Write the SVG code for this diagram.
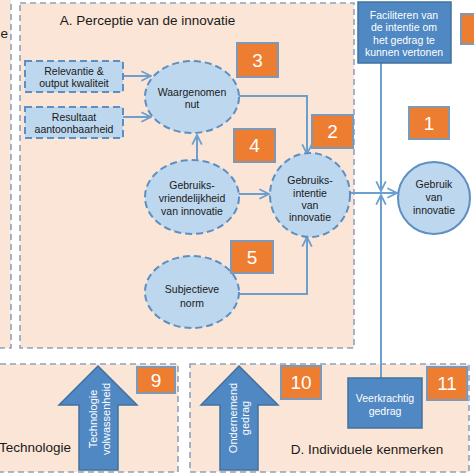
<svg xmlns="http://www.w3.org/2000/svg" width="474" height="474" viewBox="0 0 474 474">
<defs>
<style>
.panel{fill:#fbe5d6;stroke:#8ea3bd;stroke-width:1.6;stroke-dasharray:6,4}
.dnode{fill:#bdd7ee;stroke:#5e8fc2;stroke-width:2;stroke-dasharray:7,4}
.snode{fill:#bdd7ee;stroke:#5e8fc2;stroke-width:2}
.dark{fill:#4f88c2;stroke:#41719c;stroke-width:1.5}
.num{fill:#ed7d31;stroke:#7f98b5;stroke-width:2}
.numt{font-family:"Liberation Sans",Arial,sans-serif;font-size:19px;fill:#ffffff;text-anchor:middle}
.t{font-family:"Liberation Sans",Arial,sans-serif;font-size:10.5px;fill:#1a1a1a;text-anchor:middle}
.tw{font-family:"Liberation Sans",Arial,sans-serif;font-size:10.5px;fill:#ffffff;text-anchor:middle}
.title{font-family:"Liberation Sans",Arial,sans-serif;font-size:13.5px;fill:#1a1a1a}
.conn{fill:none;stroke:#6a9fd0;stroke-width:2}
</style>
<marker id="ah" viewBox="0 0 10 10" refX="9" refY="5" markerWidth="6" markerHeight="6" orient="auto" markerUnits="strokeWidth">
<path d="M1,1 L9,5 L1,9" fill="none" stroke="#6a9fd0" stroke-width="1.5"/>
</marker>
</defs>
<rect width="474" height="474" fill="#ffffff"/>

<g id="panel-left">
<rect class="panel" x="-10" y="-5" width="21" height="353"/>
<text class="title" x="8" y="38" text-anchor="end">e</text>
</g>
<g id="panel-A">
<rect class="panel" x="20" y="3" width="334" height="345"/>
<text class="title" x="147.5" y="25" text-anchor="middle">A. Perceptie van de innovatie</text>
</g>
<g id="panel-C">
<rect class="panel" x="-10" y="364" width="188" height="108"/>
<text class="title" x="-1" y="452">Technologie</text>
</g>
<g id="panel-D">
<rect class="panel" x="190" y="364" width="279" height="108"/>
<text class="title" x="367" y="454" text-anchor="middle">D. Individuele kenmerken</text>
</g>

<g id="connectors">
<line class="conn" x1="123" y1="76" x2="151" y2="76" marker-end="url(#ah)"/>
<line class="conn" x1="123" y1="117" x2="151" y2="117" marker-end="url(#ah)"/>
<line class="conn" x1="197" y1="160" x2="197" y2="135" marker-end="url(#ah)"/>
<polyline class="conn" points="239,96 307,96 307,154" marker-end="url(#ah)"/>
<line class="conn" x1="238" y1="194" x2="269" y2="194" marker-end="url(#ah)"/>
<polyline class="conn" points="238,294 307,294 307,237" marker-end="url(#ah)"/>
<line class="conn" x1="350" y1="193" x2="397" y2="193" marker-end="url(#ah)"/>
<line class="conn" x1="381" y1="63" x2="381" y2="191" marker-end="url(#ah)"/>
<line class="conn" x1="381" y1="378" x2="381" y2="195" marker-end="url(#ah)"/>
</g>

<g id="relevantie">
<rect class="dnode" x="25" y="61" width="98" height="31"/>
<text class="t" x="74" y="75">Relevantie &amp;</text>
<text class="t" x="74" y="87">output kwaliteit</text>
</g>
<g id="resultaat">
<rect class="dnode" x="25" y="107" width="98" height="31"/>
<text class="t" x="74" y="121">Resultaat</text>
<text class="t" x="74" y="133">aantoonbaarheid</text>
</g>
<g id="waargenomen-nut">
<ellipse class="dnode" cx="192" cy="97" rx="47" ry="36"/>
<text class="t" x="192" y="96">Waargenomen</text>
<text class="t" x="192" y="108">nut</text>
</g>
<g id="gebruiksvriendelijkheid">
<ellipse class="dnode" cx="192" cy="197" rx="47" ry="37"/>
<text class="t" x="192" y="189">Gebruiks-</text>
<text class="t" x="192" y="202">vriendelijkheid</text>
<text class="t" x="192" y="215">van innovatie</text>
</g>
<g id="subjectieve-norm">
<ellipse class="dnode" cx="192" cy="292" rx="47" ry="36"/>
<text class="t" x="192" y="293">Subjectieve</text>
<text class="t" x="192" y="307">norm</text>
</g>
<g id="gebruiksintentie">
<ellipse class="dnode" cx="310" cy="195" rx="40" ry="42"/>
<text class="t" x="310" y="184">Gebruiks-</text>
<text class="t" x="310" y="197">intentie</text>
<text class="t" x="310" y="209">van</text>
<text class="t" x="310" y="221">innovatie</text>
</g>
<g id="gebruik">
<circle class="snode" cx="434" cy="198" r="36"/>
<text class="t" x="434" y="188">Gebruik</text>
<text class="t" x="434" y="201">van</text>
<text class="t" x="434" y="214">innovatie</text>
</g>
<g id="faciliteren">
<rect class="dark" x="358" y="2" width="93" height="61"/>
<text class="tw" x="404" y="19">Faciliteren van</text>
<text class="tw" x="404" y="31">de intentie om</text>
<text class="tw" x="404" y="44">het gedrag te</text>
<text class="tw" x="404" y="56">kunnen vertonen</text>
</g>
<g id="veerkrachtig">
<rect class="dark" x="348" y="378" width="74" height="50"/>
<text class="tw" x="385" y="402">Veerkrachtig</text>
<text class="tw" x="385" y="415">gedrag</text>
</g>
<g id="technologie-volwassenheid">
<polygon class="dark" points="98,366 137,405 118,405 118,470 79,470 79,405 59,405"/>
<g transform="translate(97,419) rotate(-90)"><text class="tw" x="0" y="0" style="font-size:11px">Technologie</text></g>
<g transform="translate(110,419) rotate(-90)"><text class="tw" x="0" y="0" style="font-size:11px">volwassenheid</text></g>
</g>
<g id="ondernemend-gedrag">
<polygon class="dark" points="239,366 278,405 258,405 258,470 220,470 220,405 201,405"/>
<g transform="translate(237,418) rotate(-90)"><text class="tw" x="0" y="0" style="font-size:11px">Ondernemend</text></g>
<g transform="translate(249,418) rotate(-90)"><text class="tw" x="0" y="0" style="font-size:11px">gedrag</text></g>
</g>

<g id="num-1"><rect class="num" x="409" y="107" width="40" height="32"/><text class="numt" x="429" y="130">1</text></g>
<g id="num-2"><rect class="num" x="312" y="115" width="41" height="33"/><text class="numt" x="332.5" y="138">2</text></g>
<g id="num-3"><rect class="num" x="237" y="43" width="41" height="34"/><text class="numt" x="257.5" y="67">3</text></g>
<g id="num-4"><rect class="num" x="234" y="129" width="41" height="33"/><text class="numt" x="254.5" y="152">4</text></g>
<g id="num-5"><rect class="num" x="231" y="241" width="42" height="32"/><text class="numt" x="252" y="264">5</text></g>
<g id="num-9"><rect class="num" x="137" y="367" width="38" height="26"/><text class="numt" x="156" y="387">9</text></g>
<g id="num-10"><rect class="num" x="281" y="366" width="40" height="33"/><text class="numt" x="301" y="389">10</text></g>
<g id="num-11"><rect class="num" x="427" y="367" width="40" height="33"/><text class="numt" x="447" y="390">11</text></g>
<g id="num-top"><rect class="num" x="461" y="14" width="20" height="30"/></g>
</svg>
